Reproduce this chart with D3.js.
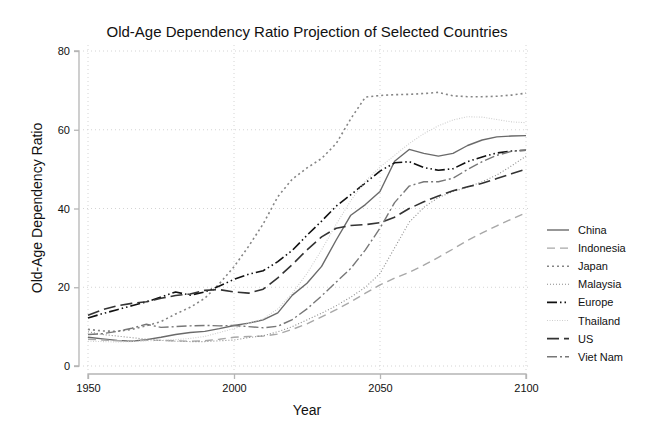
<!DOCTYPE html>
<html>
<head>
<meta charset="utf-8">
<script src="https://cdn.jsdelivr.net/npm/d3@7"></script>
<style>
  body { margin: 0; background: #fff; }
  svg text { font-family: "Liberation Sans", Arial, Helvetica, sans-serif; fill: #111; }
</style>
</head>
<body>
<svg id="chart" width="657" height="439"></svg>
<script>
// Projection years (5-year steps)
const years = [1950, 1955, 1960, 1965, 1970, 1975, 1980, 1985, 1990, 1995,
  2000, 2005, 2010, 2015, 2020, 2025, 2030, 2035, 2040, 2045,
  2050, 2055, 2060, 2065, 2070, 2075, 2080, 2085, 2090, 2095, 2100];

// Old-age dependency ratio
const china = [7.3, 6.9, 6.5, 6.3, 6.7, 7.3, 8.0, 8.5, 8.8, 9.5,
  10.3, 10.9, 11.7, 13.5, 18.0, 21.0, 25.3, 32.0, 38.3, 41.0,
  44.3, 52.0, 55.0, 54.0, 53.3, 54.0, 56.0, 57.4, 58.2, 58.4, 58.5];
const indonesia = [6.8, 6.6, 6.4, 6.4, 6.5, 6.5, 6.4, 6.3, 6.4, 6.8,
  7.3, 7.5, 7.6, 8.1, 9.3, 10.7, 12.5, 14.3, 16.3, 18.5,
  20.6, 22.3, 23.8, 25.6, 27.6, 29.7, 31.9, 33.8, 35.6, 37.3, 38.9];
const japan = [9.3, 8.9, 8.8, 9.3, 10.2, 11.3, 13.2, 14.9, 17.2, 20.9,
  25.2, 30.4, 36.1, 43.0, 47.5, 50.3, 52.7, 56.5, 62.8, 68.3,
  68.7, 68.9, 69.0, 69.2, 69.5, 68.6, 68.4, 68.4, 68.5, 68.8, 69.3];
const malaysia = [8.7, 8.0, 7.6, 7.2, 6.8, 6.5, 6.3, 6.2, 6.2, 6.4,
  6.6, 7.2, 7.7, 8.7, 10.0, 11.7, 13.4, 15.3, 17.5, 20.0,
  23.5, 30.0, 36.5, 40.3, 42.8, 44.3, 45.4, 46.8, 48.5, 50.8, 53.3];
const europe = [12.2, 13.3, 14.3, 15.3, 16.3, 17.5, 18.8, 18.0, 18.8, 20.3,
  22.0, 23.3, 24.2, 26.5, 29.4, 33.2, 36.8, 40.6, 43.5, 46.5,
  49.5, 51.6, 51.9, 50.4, 49.7, 50.1, 51.9, 53.1, 54.1, 54.6, 54.8];
const thailand = [6.3, 6.2, 6.1, 6.2, 6.4, 6.5, 6.7, 7.0, 7.5, 8.5,
  9.5, 10.8, 12.0, 14.5, 18.5, 23.5, 29.5, 36.0, 42.0, 47.0,
  50.5, 53.5, 56.5, 59.0, 61.0, 62.5, 63.3, 63.2, 62.6, 62.0, 61.8];
const us = [12.9, 14.3, 15.3, 15.9, 16.3, 17.2, 17.9, 18.3, 19.2, 19.4,
  18.8, 18.5, 19.5, 22.4, 25.8, 29.5, 32.8, 35.0, 35.7, 35.9,
  36.4, 37.8, 40.0, 41.7, 43.2, 44.5, 45.5, 46.4, 47.6, 48.8, 50.0];
const vietNam = [8.0, 8.2, 8.8, 9.6, 10.6, 9.8, 10.0, 10.2, 10.3, 10.2,
  10.3, 10.0, 9.7, 10.1, 11.8, 14.5, 17.8, 21.3, 24.8, 29.5,
  35.0, 41.5, 45.7, 46.8, 46.8, 47.7, 49.9, 51.9, 53.5, 54.5, 54.8];

const seriesNames = ["China", "Indonesia", "Japan", "Malaysia", "Europe", "Thailand", "US", "Viet Nam"];
const seriesValues = [china, indonesia, japan, malaysia, europe, thailand, us, vietNam];

const xTicks = [1950, 2000, 2050, 2100];
const yTicks = [0, 20, 40, 60, 80];

// Line look per series (Stata mono style)
const styles = {
  "China":     { stroke: "#6a6a6a", dash: null,                 width: 1.4 },
  "Indonesia": { stroke: "#a8a8a8", dash: "8,5",                width: 1.4 },
  "Japan":     { stroke: "#858585", dash: "2,3",                width: 1.6 },
  "Malaysia":  { stroke: "#8c8c8c", dash: "1,2",                width: 1.1 },
  "Europe":    { stroke: "#111111", dash: "10,3,1.5,3,1.5,3",   width: 1.6 },
  "Thailand":  { stroke: "#cfcfcf", dash: "1,1.5",              width: 1.1 },
  "US":        { stroke: "#333333", dash: "12,5",               width: 1.6 },
  "Viet Nam":  { stroke: "#777777", dash: "10,3,2,3",           width: 1.4 }
};

const svg = d3.select("#chart");

const x = d3.scaleLinear().domain([1950, 2100]).range([88, 526]);
const y = d3.scaleLinear().domain([0, 80]).range([366, 51]);

// Grid
const grid = svg.append("g").attr("class", "grid");
grid.selectAll(".hgrid").data(yTicks).enter().append("line")
  .attr("x1", 83).attr("x2", 531)
  .attr("y1", d => y(d)).attr("y2", d => y(d))
  .attr("stroke", "#d4d4d4").attr("stroke-width", 1).attr("stroke-dasharray", "1,3");
grid.selectAll(".vgrid").data(xTicks).enter().append("line")
  .attr("x1", d => x(d)).attr("x2", d => x(d))
  .attr("y1", 45).attr("y2", 371)
  .attr("stroke", "#d4d4d4").attr("stroke-width", 1).attr("stroke-dasharray", "1,3");

// Axes
const yAxis = d3.axisLeft(y).tickValues(yTicks).tickSize(5).tickPadding(4);
const xAxis = d3.axisBottom(x).tickValues(xTicks).tickFormat(d3.format("d")).tickSize(5).tickPadding(5);

const gy = svg.append("g").attr("transform", "translate(79,0)").call(yAxis);
const gx = svg.append("g").attr("transform", "translate(0,374)").call(xAxis);
[gx, gy].forEach(g => {
  g.select(".domain").attr("stroke", "#b5b5b5").attr("stroke-width", 1.3);
  g.selectAll(".tick line").attr("stroke", "#b5b5b5").attr("stroke-width", 1.3);
  g.selectAll(".tick text").style("font-size", "11px").style("fill", "#111")
    .style("font-family", "'Liberation Sans', Arial, sans-serif");
});
gy.select(".domain").attr("d", `M-5,${y(80)}H0V${y(0)}H-5`);
gx.select(".domain").attr("d", `M${x(1950)},5V0H${x(2100)}V5`);

// Lines
const line = d3.line()
  .x((d, i) => x(years[i]))
  .y(d => y(d));

svg.append("g").selectAll("path.series")
  .data(seriesNames)
  .enter().append("path")
  .attr("class", "series")
  .attr("d", (name, i) => line(seriesValues[i]))
  .attr("fill", "none")
  .attr("stroke", d => styles[d].stroke)
  .attr("stroke-width", d => styles[d].width)
  .attr("stroke-dasharray", d => styles[d].dash)
  .attr("stroke-linejoin", "round");

// Legend
const legend = svg.append("g").attr("transform", "translate(547,230)");
const item = legend.selectAll("g").data(seriesNames).enter().append("g")
  .attr("transform", (d, i) => `translate(0,${i * 18.1})`);
item.append("line")
  .attr("x1", 0).attr("x2", 22).attr("y1", 0).attr("y2", 0)
  .attr("stroke", d => styles[d].stroke)
  .attr("stroke-width", d => styles[d].width)
  .attr("stroke-dasharray", d => styles[d].dash);
item.append("text")
  .attr("x", 31).attr("y", 4)
  .style("font-size", "11px")
  .text(d => d);

// Titles
svg.append("text")
  .attr("x", 307).attr("y", 37)
  .attr("text-anchor", "middle")
  .style("font-size", "15px")
  .text("Old-Age Dependency Ratio Projection of Selected Countries");

svg.append("text")
  .attr("transform", "translate(42,208) rotate(-90)")
  .attr("text-anchor", "middle")
  .style("font-size", "14px")
  .text("Old-Age Dependency Ratio");

svg.append("text")
  .attr("x", 307).attr("y", 415)
  .attr("text-anchor", "middle")
  .style("font-size", "14px")
  .text("Year");
</script>
</body>
</html>
